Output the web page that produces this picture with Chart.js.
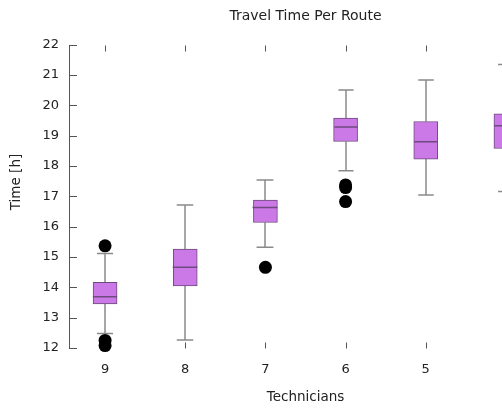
<!DOCTYPE html>
<html>
<head>
<meta charset="utf-8">
<script src="https://cdn.jsdelivr.net/npm/chart.js@4.4.1/dist/chart.umd.min.js"></script>
<style>
  html, body { margin: 0; padding: 0; overflow: hidden; background: #fff; }
  #wrap { width: 542px; height: 408px; }
</style>
</head>
<body>
<div id="wrap"><canvas id="grafRotas" width="542" height="408"></canvas></div>
<script>
// Box plot data per technician count
const technicians = ['9', '8', '7', '6', '5', '4'];
const whiskerLow  = [12.48, 12.26, 15.32, 17.85, 17.05, 17.16];
const q1          = [13.45, 14.05, 16.14, 18.81, 18.23, 18.58];
const median      = [13.69, 14.66, 16.63, 19.29, 18.80, 19.33];
const q3          = [14.17, 15.26, 16.88, 19.58, 19.47, 19.72];
const whiskerHigh = [15.12, 16.72, 17.54, 20.51, 20.84, 21.35];
const outliers    = [[15.37, 12.25, 12.08], [], [14.66], [17.38, 17.29, 16.83], [], []];
const yTicks      = [12, 13, 14, 15, 16, 17, 18, 19, 20, 21, 22];

// ── style ──
const FONT     = "'DejaVu Sans', Verdana, sans-serif";
const TEXT     = '#222222';
const AXIS     = '#555555';
const FILL     = '#cb79e7';
const EDGE     = '#6e4a7e';
const WHISKER  = '#8a8a8a';

const gnuplotLook = {
    id: 'gnuplotLook',
    beforeDatasetsDraw(chart) {
        const { ctx, scales: { x, y } } = chart;
        const top = Math.round(y.getPixelForValue(22)) + 0.5;
        const bottom = Math.round(y.getPixelForValue(12)) + 0.5;
        ctx.save();
        ctx.setLineDash([]);
        // mirrored x ticks, top and bottom, pointing inward
        ctx.strokeStyle = AXIS;
        ctx.lineWidth = 1;
        ctx.beginPath();
        technicians.forEach((_, i) => {
            const px = Math.round(x.getPixelForValue(i + 1)) + 0.5;
            ctx.moveTo(px, top);
            ctx.lineTo(px, top + 6);
            ctx.moveTo(px, bottom);
            ctx.lineTo(px, bottom - 6);
        });
        ctx.stroke();

        // whiskers + caps
        ctx.strokeStyle = WHISKER;
        ctx.lineWidth = 1.5;
        ctx.beginPath();
        technicians.forEach((_, i) => {
            const px = Math.round(x.getPixelForValue(i + 1));
            const cap = x.getPixelForValue(i + 1.1) - px;
            [[whiskerLow[i], q1[i]], [whiskerHigh[i], q3[i]]].forEach(([end, edge]) => {
                const pe = y.getPixelForValue(end);
                ctx.moveTo(px, pe);
                ctx.lineTo(px, y.getPixelForValue(edge));
                ctx.moveTo(px - cap, pe);
                ctx.lineTo(px + cap, pe);
            });
        });
        ctx.stroke();
        ctx.restore();
    },
    afterDatasetDraw(chart, args) {
        if (args.index !== 0) return;
        const { ctx, scales: { x, y } } = chart;
        ctx.save();
        ctx.setLineDash([]);
        ctx.strokeStyle = EDGE;
        ctx.lineWidth = 1.5;
        ctx.beginPath();
        technicians.forEach((_, i) => {
            const px = Math.round(x.getPixelForValue(i + 1));
            const half = x.getPixelForValue(i + 1.15) - px;
            const py = y.getPixelForValue(median[i]);
            ctx.moveTo(px - half, py);
            ctx.lineTo(px + half, py);
        });
        ctx.stroke();
        ctx.restore();
    },
    afterDraw(chart) {
        const { ctx, chartArea: a, scales: { y } } = chart;
        ctx.save();
        // left border with inward y ticks
        const lx = Math.round(a.left);
        const top = Math.round(y.getPixelForValue(22));
        const bottom = Math.round(y.getPixelForValue(12));
        ctx.fillStyle = AXIS;
        ctx.fillRect(lx, top, 1, bottom - top + 1);
        yTicks.forEach(v => {
            ctx.fillRect(lx, Math.round(y.getPixelForValue(v)), 8, 1);
        });

        // y axis label
        ctx.translate(16, 182);
        ctx.rotate(-Math.PI / 2);
        ctx.font = '13.5px ' + FONT;
        ctx.fillStyle = TEXT;
        ctx.textAlign = 'center';
        ctx.textBaseline = 'middle';
        ctx.fillText('Time [h]', 0, 0);
        ctx.restore();
    }
};

new Chart(document.getElementById('grafRotas'), {
    type: 'bar',
    data: {
        datasets: [{
            type: 'bar',
            order: 1,
            data: technicians.map((_, i) => ({ x: i + 1, y: [q1[i], q3[i]] })),
            backgroundColor: FILL,
            borderColor: EDGE,
            borderWidth: 1,
            borderSkipped: false,
            barThickness: 24
        }, {
            type: 'line',
            order: 0,
            clip: false,
            showLine: false,
            data: outliers.flatMap((list, i) => list.map(v => ({ x: i + 1, y: v }))),
            backgroundColor: '#000000',
            borderColor: '#000000',
            pointRadius: 6.5,
            pointHoverRadius: 6.5,
            pointBorderWidth: 0
        }]
    },
    options: {
        responsive: false,
        animation: false,
        layout: { padding: 0, autoPadding: false },
        plugins: {
            legend: { display: false },
            tooltip: { enabled: false },
            title: {
                display: true,
                text: 'Travel Time Per Route',
                fullSize: false,
                color: TEXT,
                font: { family: FONT, size: 14, weight: 'normal' },
                padding: { top: 8, bottom: 20 }
            }
        },
        scales: {
            x: {
                type: 'linear',
                offset: false,
                min: 0.55,
                max: 6.45,
                grid: { display: false, drawTicks: false, offset: false },
                border: { display: false },
                afterBuildTicks: s => { s.ticks = technicians.map((_, i) => ({ value: i + 1 })); },
                afterFit: s => { s.height = 60; },
                ticks: {
                    autoSkip: false,
                    maxRotation: 0,
                    padding: 14,
                    color: TEXT,
                    font: { family: FONT, size: 13 },
                    callback: v => technicians[v - 1] ?? ''
                },
                title: {
                    display: true,
                    text: 'Technicians',
                    color: TEXT,
                    font: { family: FONT, size: 13.5 },
                    padding: { top: 0, bottom: 2 }
                }
            },
            y: {
                min: 12,
                max: 22,
                grid: { display: false, drawTicks: false },
                border: { display: false },
                afterBuildTicks: s => { s.ticks = yTicks.map(v => ({ value: v })); },
                afterFit: s => { s.width = 69; },
                ticks: {
                    padding: 10,
                    color: TEXT,
                    font: { family: FONT, size: 13 }
                }
            }
        }
    },
    plugins: [gnuplotLook]
});
</script>
</body>
</html>
